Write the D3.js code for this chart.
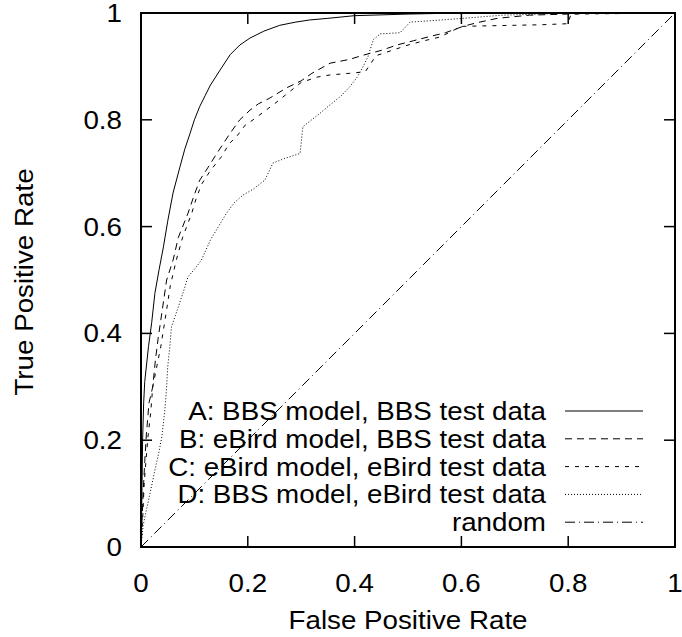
<!DOCTYPE html>
<html>
<head>
<meta charset="utf-8">
<script src="https://cdn.jsdelivr.net/npm/d3@7"></script>
<style>
  body { margin: 0; background: #fff; }
  text { font-family: "Liberation Sans", Arial, Helvetica, sans-serif; fill: #000; }
</style>
</head>
<body>
<div id="roc_viz"></div>
<script>
// ROC curves, [false positive rate, true positive rate]
const curveA = [[0,0],[0.001,0.05],[0.002,0.12],[0.003,0.2],[0.005,0.27],[0.007,0.31],[0.014,0.375],[0.02,0.42],
  [0.026,0.475],[0.034,0.52],[0.042,0.562],[0.05,0.61],[0.06,0.663],[0.073,0.712],[0.082,0.745],[0.092,0.775],
  [0.1,0.8],[0.11,0.825],[0.12,0.845],[0.13,0.865],[0.148,0.893],[0.167,0.922],[0.185,0.94],[0.204,0.953],
  [0.23,0.966],[0.26,0.977],[0.29,0.983],[0.316,0.987],[0.35,0.99],[0.4,0.995],[0.5,0.998],[0.6,1],[1,1]];

const curveB = [[0,0],[0.002,0.05],[0.004,0.1],[0.007,0.16],[0.01,0.21],[0.015,0.27],[0.022,0.3],[0.027,0.35],
  [0.032,0.39],[0.039,0.438],[0.048,0.5],[0.06,0.537],[0.07,0.58],[0.088,0.625],[0.1,0.66],[0.11,0.687],
  [0.125,0.71],[0.142,0.737],[0.167,0.775],[0.185,0.8],[0.204,0.818],[0.22,0.83],[0.24,0.84],[0.273,0.86],
  [0.3,0.873],[0.32,0.887],[0.354,0.906],[0.39,0.913],[0.416,0.921],[0.45,0.93],[0.479,0.94],[0.51,0.948],
  [0.541,0.956],[0.57,0.963],[0.603,0.975],[0.63,0.982],[0.667,0.99],[0.728,0.996],[0.8,0.998],[0.85,1],[1,1]];

const curveC = [[0,0],[0.003,0.05],[0.006,0.12],[0.013,0.206],[0.018,0.25],[0.022,0.3],[0.03,0.34],[0.037,0.375],
  [0.047,0.438],[0.055,0.49],[0.066,0.537],[0.078,0.58],[0.095,0.625],[0.104,0.655],[0.114,0.68],[0.13,0.705],
  [0.15,0.73],[0.165,0.755],[0.18,0.77],[0.195,0.79],[0.21,0.8],[0.23,0.815],[0.25,0.83],[0.275,0.85],
  [0.3,0.87],[0.33,0.88],[0.354,0.884],[0.39,0.887],[0.42,0.89],[0.44,0.92],[0.47,0.93],[0.5,0.94],
  [0.53,0.948],[0.56,0.955],[0.6,0.975],[0.65,0.976],[0.7,0.977],[0.75,0.978],[0.8,0.98],[0.805,0.998],[1,1]];

const curveD = [[0,0],[0.004,0.04],[0.008,0.06],[0.013,0.082],[0.02,0.115],[0.026,0.144],[0.033,0.175],
  [0.039,0.206],[0.045,0.26],[0.048,0.3],[0.05,0.337],[0.054,0.375],[0.057,0.412],[0.07,0.45],[0.08,0.48],
  [0.088,0.506],[0.1,0.52],[0.113,0.537],[0.13,0.575],[0.145,0.6],[0.16,0.625],[0.175,0.645],[0.191,0.659],
  [0.21,0.67],[0.232,0.687],[0.247,0.719],[0.27,0.728],[0.298,0.737],[0.303,0.787],[0.33,0.808],[0.354,0.828],
  [0.375,0.845],[0.391,0.862],[0.405,0.88],[0.416,0.9],[0.425,0.918],[0.435,0.95],[0.448,0.961],[0.485,0.963],
  [0.504,0.983],[0.55,0.986],[0.603,0.99],[0.678,0.996],[0.75,0.998],[0.8,1],[1,1]];

const curveRandom = [[0,0],[1,1]];

const legendLabels = ["A: BBS model, BBS test data", "B: eBird model, BBS test data",
  "C: eBird model, eBird test data", "D: BBS model, eBird test data", "random"];
const dashStyles = ["none", "7,5", "4,6", "1,2", "10,4,1,4"];
const xTicks = [0, 0.2, 0.4, 0.6, 0.8, 1];
const yTicks = [0, 0.2, 0.4, 0.6, 0.8, 1];

// Set the dimensions and margins of the graph
const margin = { top: 13, right: 7, bottom: 90, left: 141 },
      width = 682 - margin.left - margin.right,
      height = 637 - margin.top - margin.bottom;

const fontSize = 25, stretch = 1.11;

const svg = d3.select("#roc_viz")
    .append("svg")
        .attr("width", 682)
        .attr("height", 637)
    .append("g")
        .attr("transform", `translate(${margin.left},${margin.top})`);

const x = d3.scaleLinear().domain([0, 1]).range([0, width]);
const y = d3.scaleLinear().domain([0, 1]).range([height, 0]);

// ticks pointing inwards on all four sides
const tickLen = 11;
const tickG = svg.append("g").attr("stroke", "#000").attr("stroke-width", 1.5);
xTicks.slice(1, -1).forEach(t => {
    tickG.append("line").attr("x1", x(t)).attr("x2", x(t)).attr("y1", height).attr("y2", height - tickLen);
    tickG.append("line").attr("x1", x(t)).attr("x2", x(t)).attr("y1", 0).attr("y2", tickLen);
});
yTicks.slice(1, -1).forEach(t => {
    tickG.append("line").attr("x1", 0).attr("x2", tickLen).attr("y1", y(t)).attr("y2", y(t));
    tickG.append("line").attr("x1", width).attr("x2", width - tickLen).attr("y1", y(t)).attr("y2", y(t));
});

// helper for slightly widened text
function label(g, txt, tx, ty, anchor, rot) {
    return g.append("text")
        .attr("transform", `translate(${tx},${ty})` + (rot ? ` rotate(${rot})` : "") + ` scale(${stretch},1)`)
        .attr("text-anchor", anchor)
        .attr("dy", "0.36em")
        .style("font-size", fontSize + "px")
        .text(txt);
}

const fmt = d => d === 0 || d === 1 ? String(d) : d.toFixed(1);
xTicks.forEach(t => label(svg, fmt(t), x(t), height + 36, "middle"));
yTicks.forEach(t => label(svg, fmt(t), -19, y(t), "end"));

label(svg, "False Positive Rate", width / 2, height + 73, "middle");
label(svg, "True Positive Rate", -117, height / 2 + 2, "middle", -90);

// curves
const line = d3.line().x(d => x(d[0])).y(d => y(d[1]));
const curves = [curveA, curveB, curveC, curveD, curveRandom];
svg.append("g")
    .selectAll("path")
    .data(curves)
    .join("path")
        .attr("d", line)
        .attr("fill", "none")
        .attr("stroke", "#000")
        .attr("stroke-width", 1)
        .attr("stroke-dasharray", (d, i) => dashStyles[i]);

// legend
const legend = svg.append("g");
legendLabels.forEach((lab, i) => {
    const ly = 398 + i * 27.8;
    label(legend, lab, 405, ly, "end");
    legend.append("line")
        .attr("x1", 424).attr("x2", 502)
        .attr("y1", ly).attr("y2", ly)
        .attr("stroke", "#000")
        .attr("stroke-width", 1)
        .attr("stroke-dasharray", dashStyles[i]);
});

// border
svg.append("rect")
    .attr("width", width)
    .attr("height", height)
    .attr("fill", "none")
    .attr("stroke", "#000")
    .attr("stroke-width", 2);
</script>
</body>
</html>
